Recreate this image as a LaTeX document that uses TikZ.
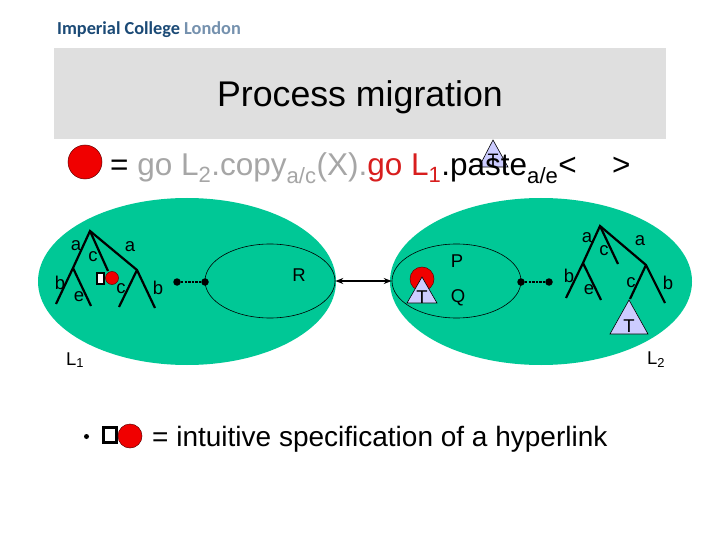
\documentclass[tikz,border=0pt]{standalone}
\usepackage{fontspec}
\setmainfont{Liberation Sans}
\newfontfamily\logofont{Carlito}
\usetikzlibrary{arrows.meta,shapes.geometric}
\definecolor{blob}{HTML}{00C896}
\definecolor{banner}{HTML}{DFDFDF}
\definecolor{tribl}{HTML}{CCCCFF}
\definecolor{redf}{HTML}{F00000}
\definecolor{graytxt}{HTML}{A6A6A6}
\definecolor{redtxt}{HTML}{D81E1E}
\definecolor{logoa}{HTML}{1B4A76}
\definecolor{logob}{HTML}{7591AE}
\tikzset{
  x=1pt,y=-1pt,
  txt/.style={inner sep=0pt,font=\fontsize{#1}{#1}\selectfont,anchor=base west},
  lab/.style={inner sep=0pt,font=\fontsize{18.5}{18.5}\selectfont,anchor=center},
  branch/.style={line width=2.2pt,black},
  blobshape/.style={ellipse,fill=blob,draw=none,minimum width=#1,minimum height=167pt,inner sep=0pt},
  innerell/.style={ellipse,draw=black,line width=0.6pt,fill=none,minimum height=74pt,inner sep=0pt},
  dotn/.style={circle,fill=black,minimum size=7.5pt,inner sep=0pt},
  redc/.style={circle,fill=redf,draw=black!60!red,line width=0.5pt,inner sep=0pt,minimum size=#1},
  tri/.style={fill=tribl,draw=black,line width=0.6pt},
  holebox/.style={draw=black,line width=2.6pt,fill=white,inner sep=0pt,minimum width=#1},
  link/.style={line width=2.4pt,dash pattern=on 2.4pt off 1.2pt},
  harrow/.style={line width=1.3pt,{Stealth[length=8pt,width=6pt]}-{Stealth[length=8pt,width=6pt]}}
}
\begin{document}
\begin{tikzpicture}
\useasboundingbox (0,0) rectangle (720,540);
\fill[white] (0,0) rectangle (720,540);
% logo
\node[inner sep=0pt,anchor=base west] (logo) at (57,35) {\fontsize{18.3}{18.3}\logofont\bfseries\textcolor{logoa}{Imperial College} \textcolor{logob}{London}};
% banner
\node[fill=banner,minimum width=612pt,minimum height=91pt,inner sep=0pt] (banner) at (360,93.5) {};
\node[inner sep=0pt,font=\fontsize{35.7}{35.7}\selectfont] (title) at (360,97) {Process migration};
% formula line
\node[redc=34pt] (fcirc) at (85,162) {};
\coordinate (fa) at (493,140); \coordinate (fb) at (479,167); \coordinate (fc) at (508,167);
\filldraw[tri] (fa) -- (fb) -- (fc) -- cycle;
\node[txt=31.5] (formula) at (110,176) {=\ \textcolor{graytxt}{go L\textsubscript{2}.copy\textsubscript{a/c}(X).}\textcolor{redtxt}{go L\textsubscript{1}}.paste\textsubscript{a/e}<};
\node[txt=31.5] (gt) at (612,176) {>};
\node[inner sep=0pt,font=\fontsize{18}{18}\selectfont] (ft) at (493,160) {T};
% locations
\node[blobshape=298pt] (L1) at (187,281.5) {};
\node[blobshape=302pt] (L2) at (541,281.5) {};
\node[innerell,minimum width=130pt] (R) at (270,281) {};
\node[innerell,minimum width=129pt] (P) at (456.5,281) {};
\draw[harrow] (R.east) -- (P.west);
% left tree
\coordinate (ar) at (90,231); \coordinate (al) at (73,268); \coordinate (ab) at (56,304); \coordinate (ae) at (91,306);
\coordinate (ac) at (108,271); \coordinate (arr) at (137,270); \coordinate (arc) at (119,307); \coordinate (arb) at (155,308);
\draw[branch] (ab) -- (al) -- (ar) -- (arr) -- (arb);
\draw[branch] (al) -- (ae);
\draw[branch] (arr) -- (arc);
\draw[branch] (ar) -- (ac);
\node[redc=13pt] (hole1c) at (112,278) {};
\node[holebox=7pt,minimum height=11pt] (hole1) at (100.5,278.5) {};
\node[lab] (la) at (76,246) {a};
\node[lab] (lc) at (93,257) {c};
\node[lab] (la2) at (130,247) {a};
\node[lab] (lb) at (60,283) {b};
\node[lab] (le) at (79,297) {e};
\node[lab] (lc2) at (121,289) {c};
\node[lab] (lb2) at (158,288) {b};
\node[dotn] (d1) at (177,282) {};
\node[dotn] (d2) at (205,282) {};
\draw[link] (d1) -- (d2);
\node[lab] (Rl) at (299,275) {R};
% P side
\node[redc=24pt] (pc) at (422,279) {};
\coordinate (pa) at (422,277); \coordinate (pb) at (407,303); \coordinate (pd) at (437,303);
\filldraw[tri] (pa) -- (pb) -- (pd) -- cycle;
\node[lab] (pt) at (422,297) {T};
\node[lab] (Pl) at (457,261) {P};
\node[lab] (Ql) at (458,298) {Q};
\node[dotn] (d3) at (521,282) {};
\node[dotn] (d4) at (549,282) {};
\draw[link] (d3) -- (d4);
% right tree
\coordinate (br) at (600,226); \coordinate (bl) at (583,263); \coordinate (bb) at (566,298); \coordinate (be) at (601,300);
\coordinate (bc) at (618,264); \coordinate (brr) at (646,265); \coordinate (brc) at (630,299); \coordinate (brb) at (665,303);
\draw[branch] (bb) -- (bl) -- (br) -- (brr) -- (brb);
\draw[branch] (bl) -- (be);
\draw[branch] (brr) -- (brc);
\draw[branch] (br) -- (bc);
\coordinate (ta) at (629,300); \coordinate (tb) at (610,334); \coordinate (tc) at (648,334);
\filldraw[tri] (ta) -- (tb) -- (tc) -- cycle;
\node[lab] (bT) at (629,326) {T};
\node[lab] (ba) at (587,238) {a};
\node[lab] (bcl) at (604,251) {c};
\node[lab] (ba2) at (640,241) {a};
\node[lab] (bbl) at (569,276) {b};
\node[lab] (bel) at (589,290) {e};
\node[lab] (bcl2) at (631,283) {c};
\node[lab] (bbl2) at (668,283) {b};
% location labels
\node[txt=18.5] (L1l) at (66,365) {L\textsubscript{1}};
\node[txt=18.5] (L2l) at (647,364) {L\textsubscript{2}};
% bullet line
\node[circle,fill=black,minimum size=5pt,inner sep=0pt] (bul) at (86.5,436.5) {};
\node[holebox=13pt,minimum height=14.5pt] (hb) at (110,435) {};
\node[redc=24pt] (hc) at (130,436) {};
\node[txt=28] (spec) at (152,446) {= intuitive specification of a hyperlink};
\end{tikzpicture}
\end{document}
